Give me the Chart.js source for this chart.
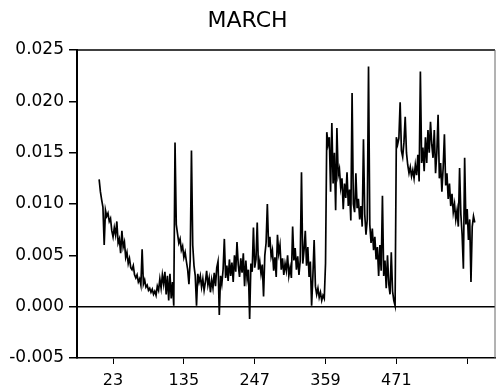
<!DOCTYPE html>
<html lang="en">
<head>
  <meta charset="UTF-8">
  <title>March</title>
  <script src="https://cdn.jsdelivr.net/npm/chart.js"></script>
  <style>
    body { margin: 0; background: #fff; }
    #wrap { width: 497px; height: 392px; }
  </style>
</head>
<body>
  <div id="wrap"><canvas id="marchChart" width="497" height="392"></canvas></div>

  <script>
    // index of first sample and spacing between the samples
    const startIndex = 1;
    const step = 2;

    // decay from the start down to the first jump
    const segA = [0.0124, 0.0112, 0.0104, 0.0097, 0.0060, 0.0094, 0.0088, 0.0091, 0.0083, 0.0086,
      0.0074, 0.0068, 0.0077, 0.0070, 0.0083, 0.0062, 0.0066, 0.0052, 0.0074, 0.0058,
      0.0063, 0.0048, 0.0053, 0.0042, 0.0047, 0.0038, 0.0036, 0.0040, 0.0031, 0.0028,
      0.0031, 0.0024, 0.0027, 0.0021, 0.0056, 0.0022, 0.0026, 0.0019, 0.0021, 0.0016,
      0.0018, 0.0014, 0.0017, 0.0012, 0.0015, 0.0011, 0.0020, 0.0016, 0.0027, 0.0018,
      0.0031, 0.0022, 0.0034, 0.0012, 0.0030, 0.0006, 0.0032, 0.0008, 0.0024, 0.0001];

    // middle stretch, low and noisy
    const segB = [0.0160, 0.0080, 0.0071, 0.0062, 0.0066, 0.0055, 0.0059, 0.0048, 0.0053, 0.0044,
      0.0036, 0.0022, 0.0045, 0.0152, 0.0060, 0.0040, 0.0030, 0.0001, 0.0032, 0.0024,
      0.0030, 0.0019, 0.0027, 0.0016, 0.0024, 0.0035, 0.0021, 0.0028, 0.0014, 0.0026,
      0.0018, 0.0033, 0.0020, 0.0038, 0.0044, -0.0008, 0.0030, 0.0022, 0.0036, 0.0066,
      0.0028, 0.0040, 0.0025, 0.0046, 0.0030, 0.0043, 0.0024, 0.0050, 0.0034, 0.0063,
      0.0041, 0.0029, 0.0047, 0.0033, 0.0052, 0.0020, 0.0045, 0.0027, 0.0036, -0.0012,
      0.0042, 0.0034, 0.0077, 0.0038, 0.0046, 0.0082, 0.0036, 0.0044, 0.0032, 0.0041,
      0.0010, 0.0050, 0.0062, 0.0100, 0.0058, 0.0068, 0.0049, 0.0055, 0.0035, 0.0048,
      0.0029, 0.0070, 0.0052, 0.0060, 0.0036, 0.0047, 0.0031, 0.0042, 0.0035, 0.0050,
      0.0030, 0.0038, 0.0028, 0.0078, 0.0045, 0.0057, 0.0036, 0.0049, 0.0031, 0.0045,
      0.0131, 0.0042, 0.0055, 0.0074, 0.0040, 0.0058, 0.0029, 0.0044, 0.0001, 0.0030,
      0.0065, 0.0020, 0.0012, 0.0018, 0.0009, 0.0014, 0.0006, 0.0011, 0.0008, 0.0042];

    // high block after the jump near 359
    const segC = [0.0170, 0.0158, 0.0165, 0.0112, 0.0179, 0.0120, 0.0150, 0.0094, 0.0174, 0.0128,
      0.0134, 0.0116, 0.0125, 0.0095, 0.0120, 0.0106, 0.0131, 0.0098, 0.0114, 0.0084,
      0.0208, 0.0100, 0.0092, 0.0130, 0.0096, 0.0105, 0.0085, 0.0098, 0.0078, 0.0163,
      0.0090, 0.0070, 0.0085, 0.0234, 0.0080, 0.0062, 0.0076, 0.0055, 0.0068, 0.0046,
      0.0058, 0.0030, 0.0060, 0.0035, 0.0108, 0.0030, 0.0045, 0.0018, 0.0050, 0.0022,
      0.0012, 0.0053, 0.0015, 0.0006, 0.0001];

    // last block after the jump near 471
    const segD = [0.0165, 0.0158, 0.0164, 0.0199, 0.0152, 0.0146, 0.0160, 0.0185, 0.0150, 0.0138,
      0.0130, 0.0136, 0.0127, 0.0133, 0.0125, 0.0138, 0.0128, 0.0148, 0.0122, 0.0229,
      0.0140, 0.0155, 0.0132, 0.0165, 0.0140, 0.0172, 0.0150, 0.0180, 0.0158, 0.0145,
      0.0172, 0.0130, 0.0150, 0.0187, 0.0125, 0.0140, 0.0112, 0.0135, 0.0168, 0.0118,
      0.0130, 0.0105, 0.0120, 0.0098, 0.0110, 0.0092, 0.0100, 0.0085, 0.0094, 0.0078,
      0.0135, 0.0090, 0.0070, 0.0037, 0.0145, 0.0080, 0.0095, 0.0065, 0.0085, 0.0024,
      0.0078, 0.0088, 0.0082];

    const xTickValues = [23, 135, 247, 359, 471, 583];
    const xTickLabels = ['23', '135', '247', '359', '471', ''];
    const yTickValues = [-0.005, 0.000, 0.005, 0.010, 0.015, 0.020, 0.025];

    const values = segA.concat(segB, segC, segD);
    const points = values.map((v, i) => ({ x: startIndex + i * step, y: v }));

    Chart.defaults.font.family = "'DejaVu Sans', sans-serif";
    Chart.defaults.color = '#000';

    // top and right edges of the frame
    const framePlugin = {
      id: 'frame',
      afterDraw(chart) {
        const a = chart.chartArea;
        const ctx = chart.ctx;
        ctx.save();
        ctx.strokeStyle = '#000';
        ctx.lineWidth = 1.5;
        ctx.beginPath();
        ctx.moveTo(a.left, a.top);
        ctx.lineTo(a.right, a.top);
        ctx.stroke();
        ctx.strokeStyle = '#666';
        ctx.lineWidth = 1;
        ctx.beginPath();
        ctx.moveTo(a.right, a.top);
        ctx.lineTo(a.right, a.bottom);
        ctx.stroke();
        ctx.restore();
      }
    };

    const ctx = document.getElementById('marchChart').getContext('2d');
    new Chart(ctx, {
      type: 'line',
      data: {
        datasets: [{
          data: points,
          borderColor: '#000',
          borderWidth: 1.7,
          pointRadius: 0,
          tension: 0,
          fill: false
        }]
      },
      options: {
        responsive: false,
        animation: false,
        layout: { padding: { left: 0, right: 2, top: 0, bottom: 0 } },
        plugins: {
          legend: { display: false },
          tooltip: { enabled: false },
          title: {
            display: true,
            text: 'MARCH',
            color: '#000',
            font: { size: 22, weight: 'normal' },
            padding: { top: 8, bottom: 15.6 }
          }
        },
        scales: {
          x: {
            type: 'linear',
            min: -34,
            max: 627,
            afterBuildTicks: s => { s.ticks = xTickValues.map(v => ({ value: v })); },
            afterFit: s => { s.height = 34; },
            ticks: {
              autoSkip: false,
              maxRotation: 0,
              padding: 7,
              font: { size: 16 },
              callback: (v, i) => xTickLabels[i]
            },
            grid: { drawOnChartArea: false, tickLength: 6, tickColor: '#000' },
            border: { color: '#000', width: 1.5 }
          },
          y: {
            min: -0.005,
            max: 0.025,
            afterBuildTicks: s => { s.ticks = yTickValues.map(v => ({ value: v })); },
            afterFit: s => { s.width = 77; },
            ticks: {
              padding: 5,
              font: { size: 17 },
              callback: v => v.toFixed(3)
            },
            grid: {
              drawOnChartArea: true,
              tickLength: 8,
              tickColor: '#000',
              color: c => (c.tick && Math.abs(c.tick.value) < 1e-9) ? '#000' : 'rgba(0,0,0,0)',
              lineWidth: 1.5
            },
            border: { color: '#000', width: 2 }
          }
        }
      },
      plugins: [framePlugin]
    });
  </script>
</body>
</html>
